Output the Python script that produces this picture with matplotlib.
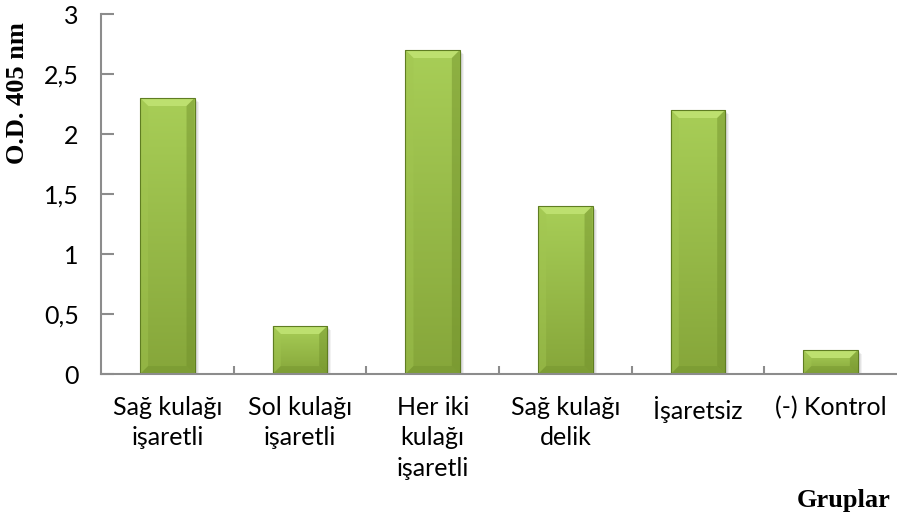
import matplotlib
matplotlib.use("Agg")
import matplotlib.pyplot as plt
import numpy as np
from matplotlib.patches import Polygon, Rectangle
from matplotlib.colors import LinearSegmentedColormap

# Data
groups = ["Sağ kulağı\nişaretli", "Sol kulağı\nişaretli", "Her iki\nkulağı\nişaretli",
          "Sağ kulağı\ndelik", "İşaretsiz", "(-) Kontrol"]
od_values = [2.3, 0.4, 2.7, 1.4, 2.2, 0.2]
y_ticks = [0, 0.5, 1, 1.5, 2, 2.5, 3]
y_tick_labels = ["0", "0,5", "1", "1,5", "2", "2,5", "3"]

W, H = 897, 516
fig = plt.figure(figsize=(W / 100, H / 100), dpi=100)
ax_left, ax_bottom, ax_right, ax_top = 101, 374, 897, 14
ax = fig.add_axes([ax_left / W, 1 - ax_bottom / H, (ax_right - ax_left) / W, (ax_bottom - ax_top) / H])

n = len(groups)
x = np.arange(n)
bar_w = 0.41
ax.set_xlim(-0.5, n - 0.5)
ax.set_ylim(0, 3)

# pixel -> data conversions for bevel sizes
px_x = (n) / (ax_right - ax_left)
px_y = 3.0 / (ax_bottom - ax_top)
bev = 8

grad_cmap = LinearSegmentedColormap.from_list("grn", ["#86a63a", "#a8ce57"])
grad = np.linspace(0, 1, 256).reshape(-1, 1)

bars = ax.bar(x, od_values, width=bar_w, color="none", edgecolor="none", zorder=3)
for rect, v in zip(bars, od_values):
    x0 = rect.get_x()
    x1 = x0 + rect.get_width()
    y1 = v
    # soft shadow
    for k, a in [(4, 0.05), (3, 0.06), (2, 0.07)]:
        ax.add_patch(Rectangle((x0 + k * px_x, -k * px_y), x1 - x0, y1,
                               facecolor="black", alpha=a, edgecolor="none", zorder=2))
    # gradient body
    im = ax.imshow(grad, extent=(x0, x1, 0, y1), origin="lower", cmap=grad_cmap,
                   aspect="auto", zorder=3, interpolation="bilinear")
    body = Rectangle((x0, 0), x1 - x0, y1, transform=ax.transData)
    im.set_clip_path(body)
    bx = bev * px_x
    by = min(bev * px_y, y1 / 3)
    # top bevel (light)
    ax.add_patch(Polygon([(x0, y1), (x1, y1), (x1 - bx, y1 - by), (x0 + bx, y1 - by)],
                         closed=True, facecolor="#bde06f", edgecolor="none", zorder=4))
    # left bevel
    ax.add_patch(Polygon([(x0, y1), (x0 + bx, y1 - by), (x0 + bx, by), (x0, 0)],
                         closed=True, facecolor="#a2c651", alpha=0.45, edgecolor="none", zorder=4))
    # right bevel (dark)
    ax.add_patch(Polygon([(x1, y1), (x1 - bx, y1 - by), (x1 - bx, by), (x1, 0)],
                         closed=True, facecolor="#6f8e2a", alpha=0.45, edgecolor="none", zorder=4))
    # bottom bevel (dark)
    ax.add_patch(Polygon([(x0, 0), (x0 + bx, by), (x1 - bx, by), (x1, 0)],
                         closed=True, facecolor="#6f8e2a", alpha=0.35, edgecolor="none", zorder=4))
    # outline
    ax.add_patch(Rectangle((x0, 0), x1 - x0, y1, facecolor="none",
                           edgecolor="#5f7d22", linewidth=0.8, zorder=5))

# Axes styling
for side in ("top", "right"):
    ax.spines[side].set_visible(False)
for side in ("left", "bottom"):
    ax.spines[side].set_color("#8c8c8c")
    ax.spines[side].set_linewidth(1.5)
    ax.spines[side].set_zorder(6)

tick_font = "Lato"
ax.set_yticks(y_ticks, y_tick_labels, fontsize=18, fontfamily=tick_font)
ax.tick_params(axis="y", direction="in", length=9, width=1.5, color="#8c8c8c", pad=16)

ax.set_xticks(x, groups, fontsize=18, fontfamily=tick_font, linespacing=1.38, va="top")
ax.tick_params(axis="x", which="major", length=0, pad=16)
ax.set_xticks(np.arange(0.5, n - 0.5, 1), minor=True)
ax.tick_params(axis="x", which="minor", direction="in", length=6, width=1.5, color="#8c8c8c")

ax.set_facecolor("white")

fig.text(18 / W, 1 - 93 / H, "O.D. 405 nm", rotation=90, ha="center", va="center",
         fontsize=19, fontweight="bold", fontfamily="Liberation Serif")
fig.text(891 / W, 1 - 500 / H, "Gruplar", ha="right", va="center",
         fontsize=19, fontweight="bold", fontfamily="Liberation Serif")

fig.savefig("out.png", dpi=100)
